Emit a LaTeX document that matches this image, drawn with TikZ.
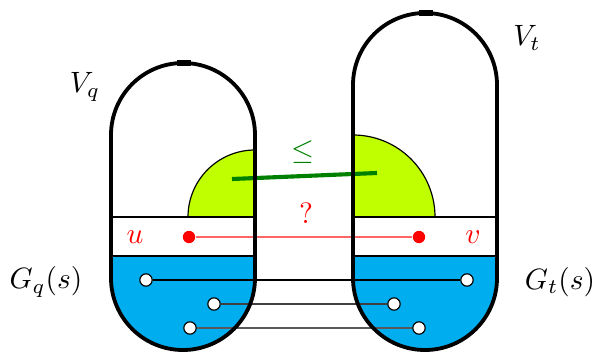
\documentclass[tikz,border=0pt]{standalone}
\usepackage{tikz}
\definecolor{sketchBlue}{HTML}{00AEEF}
\definecolor{sketchLime}{HTML}{BFFF00}
\definecolor{sketchGreen}{HTML}{008000}
\tikzset{
    capsule/.style={line width=1.3pt},
    capcap/.style={line width=2pt},
    quarter/.style={fill=sketchLime, draw=black, line width=0.4pt},
    vertexdot/.style={circle, draw=black, fill=white, inner sep=0pt, minimum size=4.2pt, line width=0.4pt},
    querydot/.style={circle, fill=red, inner sep=0pt, minimum size=4.2pt},
    matchline/.style={line width=0.4pt},
    queryline/.style={red!60, line width=0.4pt},
    boundline/.style={sketchGreen, line width=1.4pt}
}
\begin{document}
\begin{tikzpicture}[x=0.34pt, y=0.34pt]
            \useasboundingbox (0,0) rectangle (596,353);
            % lower halves
            \fill[sketchBlue] (111,97) -- (111,75) arc[start angle=180, end angle=360, radius=72] -- (255,97) -- cycle;
            \fill[sketchBlue] (353,97) -- (353,75) arc[start angle=180, end angle=360, radius=72] -- (497,97) -- cycle;
            % quarter discs
            \filldraw[quarter] (255,136) -- (188,136) arc[start angle=180, end angle=90, radius=67] -- cycle;
            \filldraw[quarter] (353,136) -- (435,136) arc[start angle=0, end angle=90, radius=82] -- cycle;
            % band
            \draw[matchline] (111,97) -- (255,97) (111,136) -- (255,136);
            \draw[matchline] (353,97) -- (497,97) (353,136) -- (497,136);
            % vertices
            \node[querydot] (u) at (189,116) {};
            \node[querydot] (v) at (419,116) {};
            \foreach \n/\x/\y in {a1/146/73, a2/214/49, a3/190/25, b1/467/73, b2/394/49, b3/419/25}{
                \node[vertexdot] (\n) at (\x,\y) {};
            }
            \draw[matchline] (a1) -- (b1);
            \draw[matchline, black!75] (a2) -- (b2);
            \draw[matchline, black!65] (a3) -- (b3);
            \draw[queryline] (u) -- (v);
            \coordinate (gl) at (232,174);
            \coordinate (gr) at (377,180);
            \draw[boundline] (gl) -- (gr);
            % outlines
            \draw[capsule] (111,75) -- (111,218) arc[start angle=180, end angle=0, radius=72] -- (255,75) arc[start angle=0, end angle=-180, radius=72] -- cycle;
            \draw[capsule] (353,75) -- (353,268) arc[start angle=180, end angle=0, radius=72] -- (497,75) arc[start angle=0, end angle=-180, radius=72] -- cycle;
            \draw[capcap] (177,290) -- (191,290);
            \draw[capcap] (419,340) -- (433,340);
            % labels
            \node[text=red] (ulab) at (135,116) {$u$};
            \node[text=red] (vlab) at (473,116) {$v$};
            \node[text=red] (qmark) at (306,140) {?};
            \node[text=sketchGreen] (leq) at (303,201) {$\leq$};
            \node (vq) at (85,266) {$V_q$};
            \node (vt) at (527,315) {$V_t$};
            \node (gq) at (46,71) {$G_q(s)$};
            \node (gt) at (560,71) {$G_t(s)$};
        \end{tikzpicture}
\end{document}
